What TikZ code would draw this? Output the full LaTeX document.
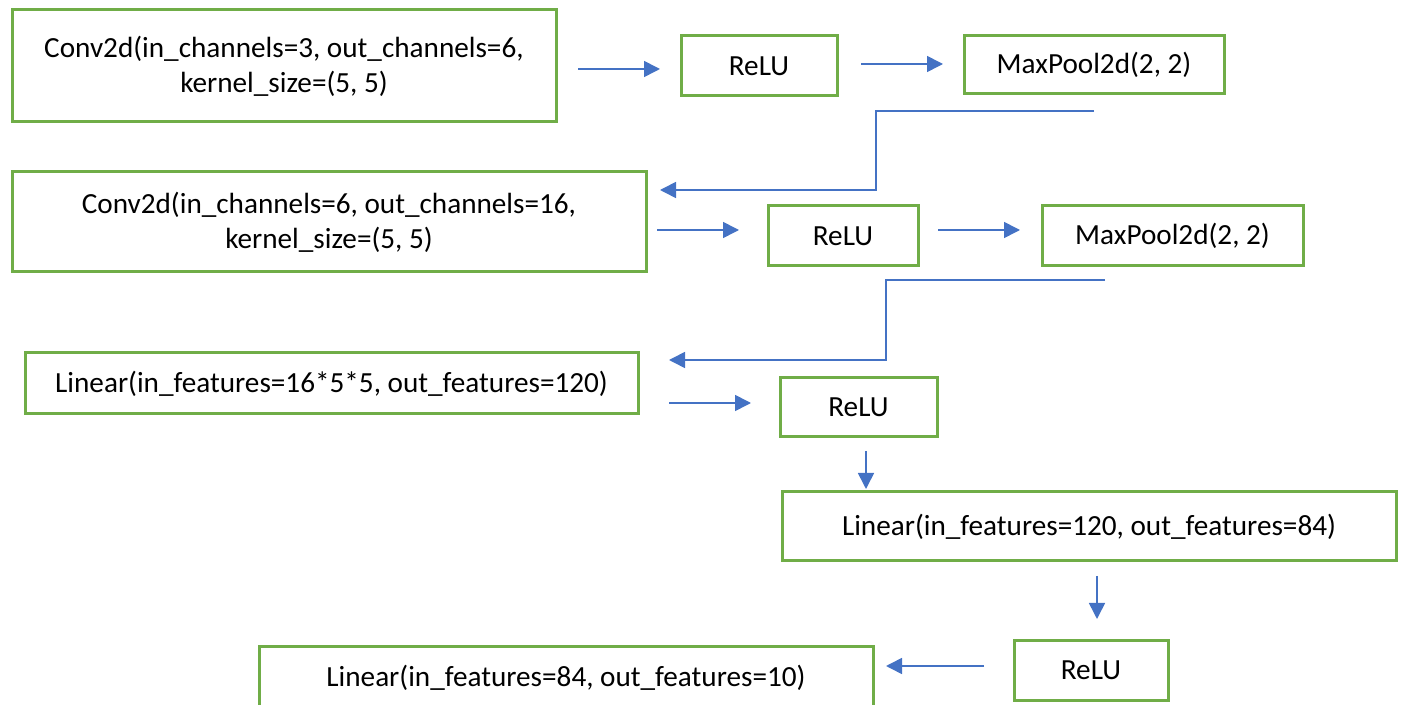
\documentclass[tikz,border=0pt]{standalone}
\usepackage{fontspec}
\setmainfont{Carlito}
\usetikzlibrary{arrows.meta}
\definecolor{boxgreen}{HTML}{70AD47}
\definecolor{arrowblue}{HTML}{4472C4}
\begin{document}
\begin{tikzpicture}[x=0.5pt,y=-0.5pt,
  layer/.style={draw=boxgreen,line width=1.5pt,inner sep=0pt,outer sep=0pt,align=center,
    font=\fontsize{14.6}{17.5}\selectfont},
  flow/.style={draw=arrowblue,line width=0.8pt,-{Triangle[length=8pt,width=8pt]}}]
\useasboundingbox (0,0) rectangle (1404,705);
\node[layer,minimum width=272pt,minimum height=56pt] (c1) at (284,66) {Conv2d(in\_channels=3, out\_channels=6,\\kernel\_size=(5, 5)};
\node[layer,minimum width=78pt,minimum height=30pt] (r1) at (759,66) {ReLU};
\node[layer,minimum width=130pt,minimum height=29pt] (m1) at (1094,65) {MaxPool2d(2, 2)};
\node[layer,minimum width=317pt,minimum height=50pt] (c2) at (329,222) {Conv2d(in\_channels=6, out\_channels=16,\\kernel\_size=(5, 5)};
\node[layer,minimum width=75pt,minimum height=30pt] (r2) at (843,236) {ReLU};
\node[layer,minimum width=130.5pt,minimum height=30pt] (m2) at (1172.5,236) {MaxPool2d(2, 2)};
\node[layer,minimum width=306.5pt,minimum height=30.5pt] (l1) at (331.5,383.5) {Linear(in\_features=16*5*5, out\_features=120)};
\node[layer,minimum width=78.5pt,minimum height=29.5pt] (r3) at (858.5,407.5) {ReLU};
\node[layer,minimum width=307pt,minimum height=34.5pt] (l2) at (1089,526.5) {Linear(in\_features=120, out\_features=84)};
\node[layer,minimum width=77pt,minimum height=29.5pt] (r4) at (1091,670.5) {ReLU};
\node[layer,minimum width=307pt,minimum height=31pt] (l3) at (566,678) {Linear(in\_features=84, out\_features=10)};
% connectors
\draw[flow,shorten <=11pt,shorten >=10.5pt] ([yshift=-1.5pt]c1.east) -- ([yshift=-1.5pt]c1.east -| r1.west);
\draw[flow,shorten <=12pt,shorten >=10.5pt] ([yshift=1pt]r1.east) -- ([yshift=1pt]r1.east -| m1.west);
\coordinate (k1) at (876,111);
\coordinate (k2) at (876,190);
\draw[flow,shorten >=7pt] ([yshift=-8.5pt]m1.south) -- (k1) -- (k2) -- (k2 -| c2.east);
\draw[flow,shorten <=5.5pt,shorten >=14.5pt] ([yshift=-4pt]c2.east) -- ([yshift=-4pt]c2.east -| r2.west);
\draw[flow,shorten <=10pt,shorten >=11pt] ([yshift=3pt]r2.east) -- ([yshift=3pt]r2.east -| m2.west);
\coordinate (k3) at (886,280);
\coordinate (k4) at (886,360);
\draw[flow,shorten >=15.5pt] ([xshift=-33.75pt,yshift=-7pt]m2.south) -- (k3) -- (k4) -- (k4 -| l1.east);
\draw[flow,shorten <=15.5pt,shorten >=14.5pt] ([yshift=-9.75pt]l1.east) -- ([yshift=-9.75pt]l1.east -| r3.west);
\draw[flow,shorten <=7pt,shorten >=1.5pt] ([xshift=3.75pt]r3.south) -- ([xshift=3.75pt]r3.south |- l2.north);
\draw[flow,shorten <=7.5pt,shorten >=11pt] ([xshift=4pt]l2.south) -- ([xshift=4pt]l2.south |- r4.north);
\draw[flow,shorten <=15pt,shorten >=6.5pt] ([yshift=2.25pt]r4.west) -- ([yshift=2.25pt]r4.west -| l3.east);
\end{tikzpicture}
\end{document}
